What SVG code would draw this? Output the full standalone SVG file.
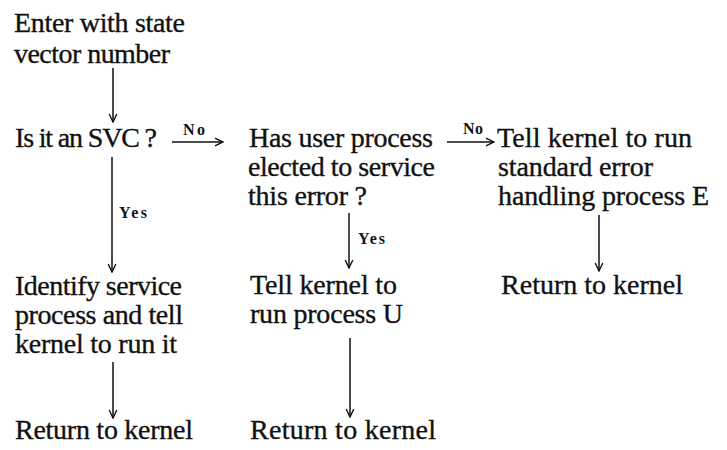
<svg xmlns="http://www.w3.org/2000/svg" width="727" height="450" viewBox="0 0 727 450">
  <defs>
    <marker id="arrow" viewBox="0 0 10 10" refX="9" refY="5" markerWidth="10" markerHeight="10" markerUnits="userSpaceOnUse" orient="auto">
      <path d="M1,1.2 L9,5 L1,8.8" fill="none" stroke="#111" stroke-width="1.4"/>
    </marker>
    <style>
      .t { font-family: "Liberation Serif", "Times New Roman", serif; font-size: 28px; fill: #111; stroke: #111; stroke-width: 0.35; }
      .lbl { font-family: "Liberation Serif", "Times New Roman", serif; font-size: 16px; font-weight: bold; fill: #111; }
      .c { stroke: #111; stroke-width: 1.5; fill: none; marker-end: url(#arrow); }
    </style>
  </defs>
  <rect width="727" height="450" fill="#fff"/>

  <g id="enter">
    <text class="t" x="14" y="32" textLength="171" lengthAdjust="spacing">Enter with state</text>
    <text class="t" x="14" y="63" textLength="156" lengthAdjust="spacing">vector number</text>
  </g>

  <g id="is-svc">
    <text class="t" x="15" y="147" textLength="142" lengthAdjust="spacing">Is it an SVC ?</text>
  </g>

  <g id="user-elected">
    <text class="t" x="249" y="147" textLength="184" lengthAdjust="spacing">Has user process</text>
    <text class="t" x="248" y="176" textLength="187" lengthAdjust="spacing">elected to service</text>
    <text class="t" x="248" y="205" textLength="119" lengthAdjust="spacing">this error ?</text>
  </g>

  <g id="run-e">
    <text class="t" x="497" y="147" textLength="195" lengthAdjust="spacing">Tell kernel to run</text>
    <text class="t" x="498" y="176" textLength="155" lengthAdjust="spacing">standard error</text>
    <text class="t" x="498" y="205" textLength="211" lengthAdjust="spacing">handling process E</text>
  </g>

  <g id="identify-service">
    <text class="t" x="15" y="295" textLength="167" lengthAdjust="spacing">Identify service</text>
    <text class="t" x="15" y="324" textLength="168" lengthAdjust="spacing">process and tell</text>
    <text class="t" x="15" y="353" textLength="162" lengthAdjust="spacing">kernel to run it</text>
  </g>

  <g id="run-u">
    <text class="t" x="250" y="294" textLength="147" lengthAdjust="spacing">Tell kernel to</text>
    <text class="t" x="250" y="323" textLength="153" lengthAdjust="spacing">run process U</text>
  </g>

  <g id="return-e">
    <text class="t" x="501" y="294" textLength="182" lengthAdjust="spacing">Return to kernel</text>
  </g>

  <g id="return-svc">
    <text class="t" x="15" y="439" textLength="178" lengthAdjust="spacing">Return to kernel</text>
  </g>

  <g id="return-u">
    <text class="t" x="250" y="439" textLength="186" lengthAdjust="spacing">Return to kernel</text>
  </g>

  <g id="connectors">
    <line class="c" x1="113" y1="68" x2="113" y2="122"/>
    <line class="c" x1="172" y1="142" x2="223" y2="142"/>
    <text class="lbl" x="183" y="135" textLength="22" lengthAdjust="spacing">No</text>
    <line class="c" x1="112" y1="157" x2="112" y2="272"/>
    <text class="lbl" x="119" y="218" textLength="28" lengthAdjust="spacing">Yes</text>
    <line class="c" x1="447" y1="142" x2="494" y2="142"/>
    <text class="lbl" x="463" y="134" textLength="20" lengthAdjust="spacing">No</text>
    <line class="c" x1="349" y1="213" x2="349" y2="268"/>
    <text class="lbl" x="358" y="244" textLength="27" lengthAdjust="spacing">Yes</text>
    <line class="c" x1="599" y1="215" x2="599" y2="271"/>
    <line class="c" x1="113" y1="362" x2="113" y2="418"/>
    <line class="c" x1="350" y1="338" x2="350" y2="417"/>
  </g>
</svg>
